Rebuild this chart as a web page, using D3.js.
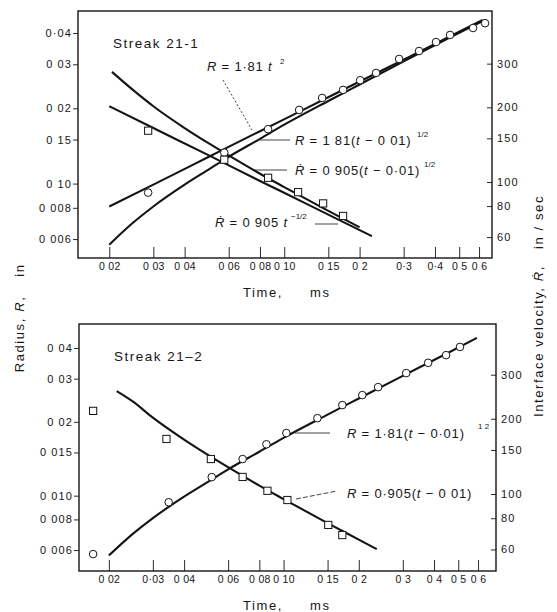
<!DOCTYPE html>
<html>
<head>
<meta charset="utf-8">
<script src="https://cdn.jsdelivr.net/npm/d3@7"></script>
<style>
    body { margin: 0; background: #fff; }
    svg text { font-family: "Liberation Sans", Arial, sans-serif; fill: #161616; }
    .tick-x { font-size: 10.5px; letter-spacing: 0.3px; }
    .tick-y { font-size: 11px; letter-spacing: 1.1px; }
    .note { font-size: 13px; letter-spacing: 0.8px; }
    .sup { font-size: 8px; }
    .title { font-size: 13.5px; letter-spacing: 1.5px; }
    .axis-title { font-size: 13px; letter-spacing: 1.6px; }
</style>
</head>
<body>
<div id="chart"></div>
<script>
// tick values and labels (as printed)
const timeTicks = [0.02, 0.03, 0.04, 0.06, 0.08, 0.1, 0.15, 0.2, 0.3, 0.4, 0.5, 0.6]
const timeLabelsTop = ["0 02", "0 03", "0 04", "0 06", "0 08", "0 10", "0 15", "0 2", "0·3", "0·4", "0 5", "0 6"]
const timeLabelsBottom = ["0 02", "0·03", "0 04", "0 06", "0 08", "0 10", "0 15", "0 2", "0 3", "0 4", "0 5", "0 6"]
const radiusTicks = [0.04, 0.03, 0.02, 0.015, 0.01, 0.008, 0.006]
const radiusLabelsTop = ["0·04", "0 03", "0 02", "0 15", "0 10", "0 008", "0 006"]
const radiusLabelsBottom = ["0 04", "0 03", "0 02", "0 015", "0 010", "0 008", "0 006"]
const velocityTicks = [300, 200, 150, 100, 80, 60]
const velocityLabels = ["300", "200", "150", "100", "80", "60"]

// Streak 21-1 : measured points [t ms, R in] and [t ms, Rdot in/sec]
const s1Radius = [[0.0286, 0.0092], [0.0576, 0.0133], [0.0862, 0.0165], [0.1147, 0.0197], [0.1417, 0.0220],
    [0.1718, 0.0237], [0.201, 0.0259], [0.2327, 0.0277], [0.2876, 0.0315], [0.3456, 0.0339],
    [0.404, 0.0368], [0.4596, 0.0393], [0.568, 0.0419], [0.634, 0.0438]]
const s1Velocity = [[0.0286, 161], [0.0576, 123], [0.0862, 104], [0.1136, 91], [0.143, 82], [0.1718, 73]]
// Streak 21-1 : fitted curves
const s1RadiusFit = [[0.02, 0.0081], [0.03, 0.0099], [0.05, 0.0128], [0.08, 0.0162], [0.12, 0.0198],
    [0.2, 0.0256], [0.3, 0.0313], [0.45, 0.0384], [0.62, 0.0451]]
const s1RadiusShiftFit = [[0.02, 0.0057], [0.025, 0.0070], [0.03, 0.0081], [0.04, 0.0099], [0.05, 0.0114],
    [0.06, 0.0128], [0.08, 0.0151], [0.1, 0.0172], [0.15, 0.0214], [0.2, 0.0249], [0.3, 0.0308],
    [0.45, 0.0380], [0.62, 0.0447]]
const s1VelocityFit = [[0.02, 202], [0.03, 165], [0.05, 128], [0.08, 101], [0.12, 82.6], [0.16, 71.5], [0.224, 60.5]]
const s1VelocityShiftFit = [[0.0205, 278], [0.025, 234], [0.03, 202], [0.04, 165], [0.05, 143], [0.06, 128],
    [0.08, 108], [0.1, 95.4], [0.15, 76.5], [0.2, 65.7]]

// Streak 21-2
const s2Radius = [[0.0173, 0.00578], [0.0347, 0.0094], [0.0516, 0.0119], [0.0686, 0.0141], [0.0854, 0.0162],
    [0.1026, 0.0180], [0.1366, 0.0207], [0.1718, 0.0234], [0.2066, 0.0257], [0.239, 0.0277],
    [0.3096, 0.0316], [0.379, 0.0348], [0.447, 0.0374], [0.508, 0.0404]]
const s2Velocity = [[0.0173, 215], [0.034, 166], [0.0512, 138], [0.0686, 117], [0.0862, 103],
    [0.1036, 94.6], [0.151, 75.2], [0.1718, 68.5]]
const s2RadiusFit = [[0.02, 0.0057], [0.025, 0.0070], [0.03, 0.0081], [0.04, 0.0099], [0.05, 0.0114],
    [0.06, 0.0128], [0.08, 0.0151], [0.1, 0.0172], [0.15, 0.0214], [0.2, 0.0249], [0.3, 0.0308],
    [0.45, 0.0380], [0.594, 0.0440]]
const s2VelocityFit = [[0.0215, 258], [0.025, 234], [0.03, 202], [0.04, 165], [0.05, 143], [0.06, 128],
    [0.08, 108], [0.1, 95.4], [0.15, 76.5], [0.2, 65.7], [0.236, 60.2]]

const panels = [
    {
        title: "Streak 21-1", left: 78, right: 492, top: 11, bottom: 258,
        xDomain: [0.0150, 0.676], rDomain: [0.00504, 0.049], vDomain: [49.4, 489],
        timeLabels: timeLabelsTop, radiusLabels: radiusLabelsTop,
        radiusCurves: [s1RadiusFit, s1RadiusShiftFit], velocityCurves: [s1VelocityFit, s1VelocityShiftFit],
        circles: s1Radius, squares: s1Velocity
    },
    {
        title: "Streak 21–2", left: 79, right: 496, top: 324, bottom: 571,
        xDomain: [0.01519, 0.708], rDomain: [0.00493, 0.0501], vDomain: [49.2, 478.6],
        timeLabels: timeLabelsBottom, radiusLabels: radiusLabelsBottom,
        radiusCurves: [s2RadiusFit], velocityCurves: [s2VelocityFit],
        circles: s2Radius, squares: s2Velocity
    }
]

const W = 557, H = 612
const ink = "#141414"

const svg = d3.select("#chart").append("svg")
    .attr("width", W)
    .attr("height", H)
svg.append("rect").attr("width", W).attr("height", H).attr("fill", "#fff")

// text with italic pieces: parts = [[text, italic?], ...]
function note(g, x, y, parts, cls) {
    const t = g.append("text").attr("class", cls || "note").attr("x", x).attr("y", y)
    parts.forEach(p => {
        t.append("tspan").text(p[0]).style("font-style", p[1] ? "italic" : "normal")
    })
    return t
}

function leader(g, x1, y1, x2, y2, dash) {
    g.append("line")
        .attr("x1", x1).attr("y1", y1).attr("x2", x2).attr("y2", y2)
        .attr("stroke", ink).attr("stroke-width", 0.8)
        .attr("stroke-dasharray", dash || null)
}

function draw_panel(p) {
    const x = d3.scaleLog().domain(p.xDomain).range([p.left, p.right])
    const yR = d3.scaleLog().domain(p.rDomain).range([p.bottom, p.top])
    const yV = d3.scaleLog().domain(p.vDomain).range([p.bottom, p.top])
    const g = svg.append("g")

    // axes
    const xAxis = g.append("g")
        .attr("transform", `translate(0,${p.bottom})`)
        .call(d3.axisBottom(x).tickValues(timeTicks).tickSize(-11).tickPadding(5)
            .tickFormat((d, i) => p.timeLabels[i]))
    const leftAxis = g.append("g")
        .attr("transform", `translate(${p.left},0)`)
        .call(d3.axisLeft(yR).tickValues(radiusTicks).tickSize(5).tickPadding(1)
            .tickFormat((d, i) => p.radiusLabels[i]))
    const rightAxis = g.append("g")
        .attr("transform", `translate(${p.right},0)`)
        .call(d3.axisRight(yV).tickValues(velocityTicks).tickSize(-5).tickPadding(5)
            .tickFormat((d, i) => velocityLabels[i]))

    ;[xAxis, leftAxis, rightAxis].forEach(a => {
        a.attr("font-family", null).attr("font-size", null)
        a.select(".domain").remove()
        a.selectAll(".tick line").attr("stroke", ink).attr("stroke-width", 0.9)
    })
    xAxis.selectAll("text").attr("class", "tick-x")
    leftAxis.selectAll("text").attr("class", "tick-y")
    rightAxis.selectAll("text").attr("class", "tick-y")

    // frame
    g.append("rect")
        .attr("x", p.left).attr("y", p.top)
        .attr("width", p.right - p.left).attr("height", p.bottom - p.top)
        .attr("fill", "none").attr("stroke", ink).attr("stroke-width", 1.4)

    // fitted curves
    const rLine = d3.line().x(d => x(d[0])).y(d => yR(d[1])).curve(d3.curveMonotoneX)
    const vLine = d3.line().x(d => x(d[0])).y(d => yV(d[1])).curve(d3.curveMonotoneX)
    p.radiusCurves.forEach(c => {
        g.append("path").attr("d", rLine(c))
            .attr("fill", "none").attr("stroke", ink).attr("stroke-width", 2.1)
    })
    p.velocityCurves.forEach(c => {
        g.append("path").attr("d", vLine(c))
            .attr("fill", "none").attr("stroke", ink).attr("stroke-width", 2.1)
    })

    // measured points
    g.selectAll(".pt-r").data(p.circles).enter().append("circle")
        .attr("cx", d => x(d[0])).attr("cy", d => yR(d[1])).attr("r", 3.8)
        .attr("fill", "#fff").attr("stroke", ink).attr("stroke-width", 1)
    g.selectAll(".pt-v").data(p.squares).enter().append("rect")
        .attr("x", d => x(d[0]) - 3.6).attr("y", d => yV(d[1]) - 3.6)
        .attr("width", 7.2).attr("height", 7.2)
        .attr("fill", "#fff").attr("stroke", ink).attr("stroke-width", 1)

    // panel title
    g.append("text").attr("class", "title")
        .attr("x", p.left + 35).attr("y", p.top + 37)
        .text(p.title)

    // x axis title
    g.append("text").attr("class", "axis-title").attr("x", 243).attr("y", p.bottom + 39).text("Time,")
    g.append("text").attr("class", "axis-title").attr("x", 310).attr("y", p.bottom + 39).text("ms")
    return g
}

const g1 = draw_panel(panels[0])
const g2 = draw_panel(panels[1])

// annotations, Streak 21-1
note(g1, 207, 71, [["R", true], [" = 1·81 ", false], ["t", true]])
g1.append("text").attr("class", "sup").attr("x", 280).attr("y", 64).text("2")
leader(g1, 223, 80, 252, 130, "2,2")
note(g1, 295, 145, [["R", true], [" = 1 81(", false], ["t", true], [" − 0 01)", false]])
g1.append("text").attr("class", "sup").attr("x", 417).attr("y", 137).attr("fill", "#888").text("1/2")
leader(g1, 260, 140, 290, 140)
note(g1, 295, 175, [["Ṙ", true], [" = 0 905(", false], ["t", true], [" − 0·01)", false]])
g1.append("text").attr("class", "sup").attr("x", 424).attr("y", 167).attr("fill", "#888").text("1/2")
leader(g1, 253, 170, 287, 170)
note(g1, 215, 227, [["Ṙ", true], [" = 0 905 ", false], ["t", true]])
g1.append("text").attr("class", "sup").attr("x", 291).attr("y", 219).text("−1/2")
leader(g1, 315, 224, 338, 224)

// annotations, Streak 21-2
note(g2, 347, 438, [["R", true], [" = 1·81(", false], ["t", true], [" − 0·01)", false]])
g2.append("text").attr("class", "sup").attr("x", 478).attr("y", 429).attr("fill", "#888").text("1 2")
leader(g2, 295, 433, 330, 433)
note(g2, 347, 498, [["R", true], [" = 0·905(", false], ["t", true], [" − 0 01)", false]])
leader(g2, 296, 499, 337, 491, "5,2")

// outer axis titles (vertical)
svg.append("text").attr("class", "axis-title")
    .attr("transform", "translate(24,334) rotate(-90)")
    .attr("text-anchor", "middle")
    .call(t => {
        t.append("tspan").text("Radius, ")
        t.append("tspan").text("R").style("font-style", "italic")
        t.append("tspan").text(",")
    })
svg.append("text").attr("class", "axis-title")
    .attr("transform", "translate(24,270) rotate(-90)")
    .attr("text-anchor", "middle")
    .text("in")
svg.append("text").attr("class", "axis-title")
    .attr("transform", "translate(543,341) rotate(-90)")
    .attr("text-anchor", "middle")
    .call(t => {
        t.append("tspan").text("Interface velocity, ")
        t.append("tspan").text("Ṙ").style("font-style", "italic")
        t.append("tspan").text(",")
    })
svg.append("text").attr("class", "axis-title")
    .attr("transform", "translate(543,222) rotate(-90)")
    .attr("text-anchor", "middle")
    .text("in / sec")
</script>
</body>
</html>
